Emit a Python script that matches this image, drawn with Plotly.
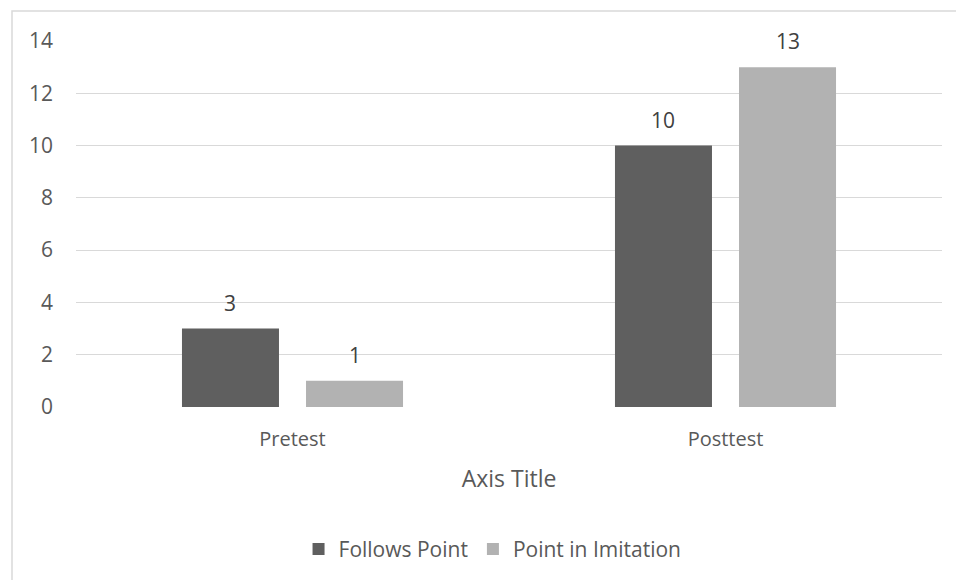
import plotly.graph_objects as go

categories = ["Pretest", "Posttest"]
follows_point = [3, 10]
point_in_imitation = [1, 13]
series_names = ["Follows Point", "Point in Imitation"]
y_ticks = [0, 2, 4, 6, 8, 10, 12, 14]

TEXT = "#595959"
LABEL = "#404040"
FONT = "Open Sans, Noto Sans, sans-serif"
COLORS = ["#5f5f5f", "#b2b2b2"]

BARGAP = 0.427
BARGROUPGAP = 0.218

fig = go.Figure()
for name, vals, col in zip(series_names, [follows_point, point_in_imitation], COLORS):
    fig.add_trace(go.Bar(
        x=categories, y=vals, name=name,
        marker=dict(color=col, line=dict(width=0)),
    ))

# value labels above each bar, placed at the grouped bar centres
slot = (1 - BARGAP) / 2
offsets = [-slot / 2, slot / 2]
annotations = []
for off, vals in zip(offsets, [follows_point, point_in_imitation]):
    for i, v in enumerate(vals):
        annotations.append(dict(
            x=i + off, y=v, xref="x", yref="y", text=str(v), showarrow=False,
            yanchor="bottom", yshift=10, font=dict(size=21, color=LABEL),
        ))

fig.update_layout(
    width=956, height=580,
    margin=dict(l=76, r=14, t=41, b=172),
    paper_bgcolor="white", plot_bgcolor="white",
    font=dict(family=FONT, color=TEXT, size=20),
    barmode="group", bargap=BARGAP, bargroupgap=BARGROUPGAP,
    showlegend=True,
    legend=dict(orientation="h", x=0.481, xanchor="center", y=-0.385, yanchor="middle",
                font=dict(size=21, color=TEXT), itemwidth=30, traceorder="normal"),
    xaxis=dict(
        showgrid=False, zeroline=False, showline=False, ticks="",
        tickfont=dict(size=20, color=TEXT), range=[-0.5, 1.5], ticklabelstandoff=18,
        title=dict(text="Axis Title", font=dict(size=23, color=TEXT), standoff=19),
    ),
    yaxis=dict(
        range=[0, 14], tickvals=y_ticks, showgrid=True, gridcolor="#d9d9d9", gridwidth=1.3,
        zeroline=False, showline=False, ticks="", ticklabelstandoff=22,
        tickfont=dict(size=21, color=TEXT),
    ),
    annotations=annotations,
    shapes=[dict(
        type="rect", xref="paper", yref="paper",
        x0=-0.0739, x1=1.06, y0=-0.6, y1=1.0817,
        line=dict(color="#d9d9d9", width=1.5), fillcolor="rgba(0,0,0,0)", layer="below",
    )],
)

fig.write_html("out.html")
